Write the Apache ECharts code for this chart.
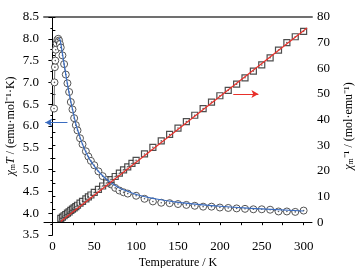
<!DOCTYPE html>
<html>
<head>
<meta charset="utf-8">
<script src="https://cdn.jsdelivr.net/npm/echarts@6/dist/echarts.min.js"></script>
<style>
  html, body { margin: 0; padding: 0; background: #fff; }
  #main { width: 360px; height: 268px; }
</style>
</head>
<body>
<div id="main"></div>
<script>
// chi_m*T data (left axis)
var tempChiT = [2, 2.5, 3, 3.5, 4, 5, 6, 7, 8, 9, 10, 12, 14, 16, 18, 20, 22, 24, 26, 28, 30, 33, 36, 40, 43, 46, 50, 55, 60, 65, 70, 75, 80, 85, 90,
  100, 110, 120, 130, 140, 150, 160, 170, 180, 190, 200, 210, 220, 230, 240, 250, 260, 270, 280, 290, 300];
var chiT = [6.40, 7.00, 7.35, 7.50, 7.75, 7.90, 7.98, 8.00, 7.96, 7.88, 7.80, 7.62, 7.42, 7.18, 6.98, 6.78, 6.55, 6.38, 6.18, 6.02, 5.90, 5.72, 5.58, 5.42, 5.30, 5.20, 5.10, 4.96, 4.85, 4.76, 4.66, 4.58, 4.52, 4.48, 4.45,
  4.40, 4.33, 4.27, 4.24, 4.23, 4.21, 4.19, 4.17, 4.15, 4.15, 4.13, 4.12, 4.11, 4.10, 4.09, 4.09, 4.08, 4.04, 4.04, 4.03, 4.06];

// fit curve for chi_m*T
var fitTempChiT = [8.5, 10, 12, 15, 20, 25, 30, 40, 50, 60, 70, 80, 90, 100, 120, 150, 200, 250, 300];
var fitChiT = [8.02, 7.90, 7.66, 7.30, 6.75, 6.30, 5.92, 5.40, 5.08, 4.86, 4.70, 4.58, 4.50, 4.43, 4.34, 4.25, 4.16, 4.10, 4.05];

// 1/chi_m data (right axis)
var tempInv = [10, 12, 14, 16, 18, 20, 22, 24, 26, 28, 30, 33, 36, 40, 43, 46, 50, 55, 60, 65, 70, 75, 80, 85, 90, 95,
  100, 110, 120, 130, 140, 150, 160, 170, 180, 190, 200, 210, 220, 230, 240, 250, 260, 270, 280, 290, 300];
var invChi = [1.5, 2.0, 2.5, 3.0, 3.5, 4.0, 4.6, 5.1, 5.6, 6.1, 6.6, 7.4, 8.1, 9.1, 9.9, 10.6, 11.6, 12.8, 14.1, 15.3, 16.6, 17.8, 19.1, 20.4, 21.6, 22.9,
  24.1, 26.6, 29.2, 31.7, 34.2, 36.7, 39.2, 41.7, 44.3, 46.8, 49.3, 51.4, 53.8, 56.3, 58.9, 61.3, 64.1, 67.1, 70.0, 72.3, 74.4];

// linear fit for 1/chi_m
var fitTempInv = [10, 304];
var fitInv = [0.3, 75.7];

var xLabels = [0, 50, 100, 150, 200, 250, 300];
var xTicks = [0, 25, 50, 75, 100, 125, 150, 175, 200, 225, 250, 275, 300];
var rightLabels = [0, 10, 20, 30, 40, 50, 60, 70, 80];
var rightTicks = [0, 5, 10, 15, 20, 25, 30, 35, 40, 45, 50, 55, 60, 65, 70, 75, 80];

function pairs(xs, ys) {
  return xs.map(function (x, i) { return [x, ys[i]]; });
}

var serif = 'Liberation Serif';
var myChart = echarts.init(document.getElementById('main'));

var nameRich = {
  n: { fontFamily: serif, fontSize: 12, color: '#000' },
  i: { fontFamily: serif, fontSize: 12, fontStyle: 'italic', color: '#000' },
  s: { fontFamily: serif, fontSize: 8, color: '#000', padding: [4, 0, 0, 0] }
};

var option = {
  animation: false,
  backgroundColor: '#fff',
  textStyle: { fontFamily: serif, color: '#000' },
  grid: { left: 44, right: 48, top: 17, bottom: 33, containLabel: false, outerBoundsMode: 'none' },
  xAxis: [{
    type: 'value', min: -10, max: 310,
    name: 'Temperature / K', nameLocation: 'middle', nameGap: 22, nameMoveOverlap: false,
    nameTextStyle: { fontFamily: serif, fontSize: 12, color: '#000' },
    axisLine: { lineStyle: { color: '#000', width: 1 } },
    axisTick: { customValues: xTicks, length: 3, lineStyle: { color: '#000' } },
    axisLabel: { customValues: xLabels, fontFamily: serif, fontSize: 13, color: '#000', margin: 5 },
    splitLine: { show: false }
  }, {
    type: 'value', min: -10, max: 310, position: 'top',
    axisLine: { show: true, lineStyle: { color: '#707070', width: 2 } },
    axisTick: { show: false }, axisLabel: { show: false }, splitLine: { show: false }
  }],
  yAxis: [{
    type: 'value', min: 3.5, max: 8.5, interval: 0.5, position: 'left',
    name: '{i|χ}{s|m}{i|T}{n| / (emu·mol⁻¹·K)}', nameLocation: 'middle', nameRotate: 90,
    nameGap: 27, nameMoveOverlap: false,
    nameTextStyle: { fontFamily: serif, fontSize: 12, color: '#000', rich: nameRich },
    axisLine: { show: true, lineStyle: { color: '#000' } },
    axisTick: { length: 4, lineStyle: { color: '#000' } },
    minorTick: { show: true, splitNumber: 2, length: 2, lineStyle: { color: '#000' } },
    axisLabel: { fontFamily: serif, fontSize: 13, color: '#000', margin: 5,
      formatter: function (v) { return v.toFixed(1); } },
    splitLine: { show: false }
  }, {
    type: 'value', min: -5, max: 80, position: 'right',
    name: '{i|χ}{s|m}{n|⁻¹ / (mol·emu⁻¹)}', nameLocation: 'middle', nameRotate: 90,
    nameGap: 31, nameMoveOverlap: false,
    nameTextStyle: { fontFamily: serif, fontSize: 12, color: '#000', rich: nameRich },
    axisLine: { show: true, lineStyle: { color: '#000' } },
    axisTick: { customValues: rightTicks, length: 3, lineStyle: { color: '#000' } },
    axisLabel: { customValues: rightLabels, fontFamily: serif, fontSize: 13, color: '#000', margin: 5 },
    splitLine: { show: false }
  }],
  series: [{
    name: 'chiT',
    type: 'line', xAxisIndex: 0, yAxisIndex: 0,
    data: pairs(tempChiT, chiT),
    symbol: 'circle', symbolSize: 7,
    lineStyle: { color: '#777', width: 1 },
    itemStyle: { color: '#fff', borderColor: '#555', borderWidth: 1 },
    markLine: {
      silent: true, symbol: ['none', 'arrow'], symbolSize: [6, 7],
      label: { show: false },
      lineStyle: { color: '#3a6cc0', width: 1, type: 'solid' },
      data: [[{ coord: [18, 6.08] }, { coord: [-8.5, 6.08] }]]
    },
    z: 2
  }, {
    name: 'chiTdot',
    type: 'scatter', xAxisIndex: 0, yAxisIndex: 0,
    data: pairs(tempChiT, chiT),
    symbol: 'circle', symbolSize: 1.6,
    itemStyle: { color: '#333' },
    z: 3
  }, {
    name: 'chiTfit',
    type: 'line', xAxisIndex: 0, yAxisIndex: 0,
    data: pairs(fitTempChiT, fitChiT),
    smooth: true, showSymbol: false,
    lineStyle: { color: '#3a6cc0', width: 1.2 },
    z: 4
  }, {
    name: 'invChi',
    type: 'scatter', xAxisIndex: 0, yAxisIndex: 1,
    data: pairs(tempInv, invChi),
    symbol: 'rect', symbolSize: 6,
    itemStyle: { color: '#fff', borderColor: '#222', borderWidth: 1.2 },
    z: 2
  }, {
    name: 'invChiDot',
    type: 'scatter', xAxisIndex: 0, yAxisIndex: 1,
    data: pairs(tempInv, invChi),
    symbol: 'circle', symbolSize: 1.6,
    itemStyle: { color: '#333' },
    z: 3
  }, {
    name: 'invFit',
    type: 'line', xAxisIndex: 0, yAxisIndex: 1,
    data: pairs(fitTempInv, fitInv),
    showSymbol: false,
    lineStyle: { color: '#e8302a', width: 1.2 },
    markLine: {
      silent: true, symbol: ['none', 'arrow'], symbolSize: [6, 7],
      label: { show: false },
      lineStyle: { color: '#e8302a', width: 1, type: 'solid' },
      data: [[{ coord: [216, 50] }, { coord: [246, 50] }]]
    },
    z: 4
  }]
};

myChart.setOption(option);
</script>
</body>
</html>
